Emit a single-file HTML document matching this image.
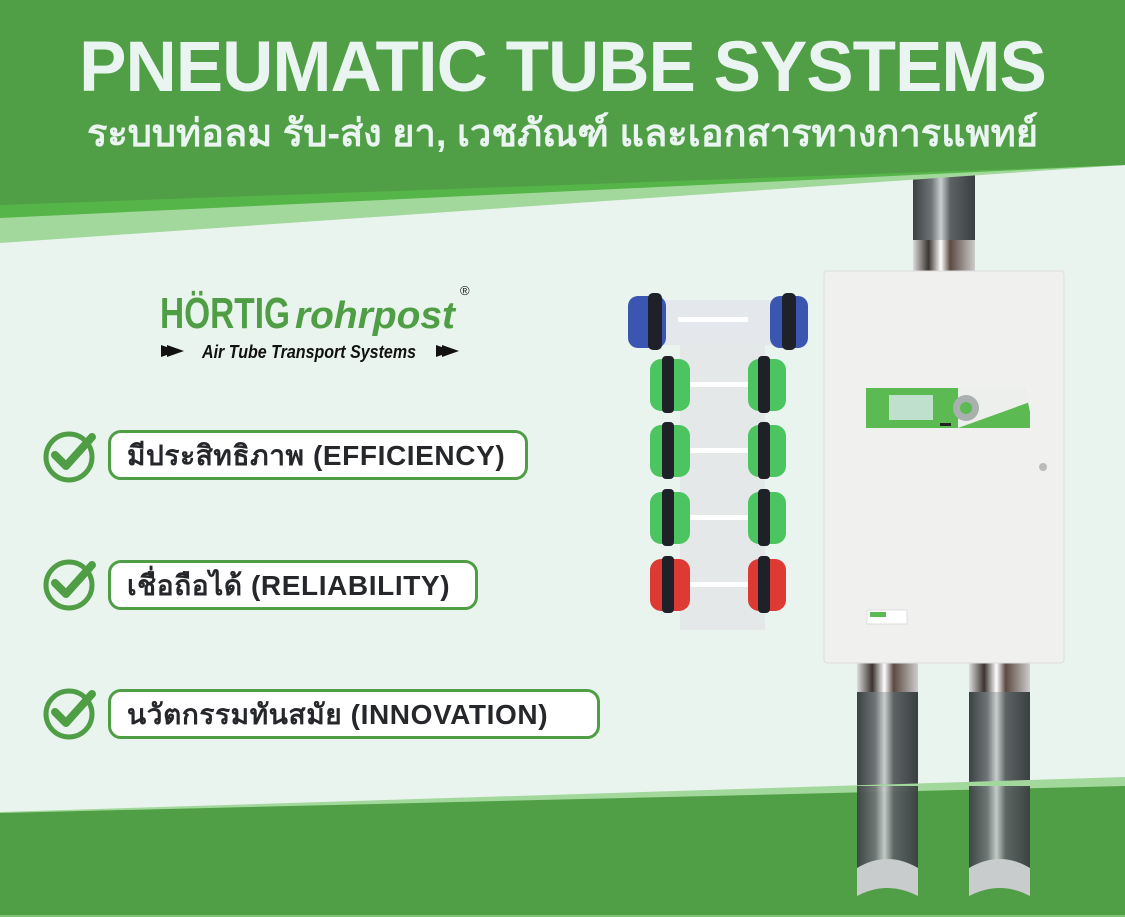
<!DOCTYPE html>
<html><head><meta charset="utf-8"><style>
html,body{margin:0;padding:0}
body{width:1125px;height:917px;overflow:hidden;background:#eaf4ee;position:relative;font-family:"Liberation Sans","Noto Sans CJK SC",sans-serif}
svg{position:absolute;left:0;top:0}
.t{position:absolute;left:0;width:1125px;text-align:center;color:#eaf5f2;font-weight:bold}
.pill{position:absolute;left:108px;height:50px;border:3px solid #4f9e45;border-radius:13px;background:#fff;box-sizing:border-box;font-weight:bold;font-size:28px;color:#25272b;line-height:46px;padding-left:16px;font-family:"Liberation Sans","Noto Sans CJK SC",sans-serif;letter-spacing:0.6px;white-space:nowrap}
</style></head><body>
<svg width="1125" height="917" viewBox="0 0 1125 917">
<defs>
<linearGradient id="pg" x1="0" x2="1"><stop offset="0" stop-color="#3c4244"/><stop offset="0.3" stop-color="#6f7577"/><stop offset="0.45" stop-color="#c9cdcd"/><stop offset="0.6" stop-color="#5d6365"/><stop offset="1" stop-color="#3a3f41"/></linearGradient>
<linearGradient id="cg" x1="0" x2="1"><stop offset="0" stop-color="#ddd"/><stop offset="0.25" stop-color="#3b3430"/><stop offset="0.45" stop-color="#fff"/><stop offset="0.6" stop-color="#5b4a42"/><stop offset="1" stop-color="#ccc"/></linearGradient>
</defs>
<rect x="913" y="170" width="62" height="70" fill="url(#pg)"/>
<rect x="913" y="240" width="62" height="32" fill="url(#cg)"/>
<rect x="857" y="662" width="61" height="30" fill="url(#cg)"/>
<rect x="969" y="662" width="61" height="30" fill="url(#cg)"/>
<rect x="857" y="692" width="61" height="192" fill="url(#pg)"/>
<rect x="969" y="692" width="61" height="192" fill="url(#pg)"/>
<polygon points="0,0 1125,0 1125,165 0,243" fill="#a2d89c"/>
<polygon points="0,0 1125,0 1125,165 0,218" fill="#55b548"/>
<polygon points="0,0 1125,0 1125,165 0,205" fill="#509e45"/>
<polygon points="0,812 1125,777 1125,917 0,917" fill="#a2d89c"/>
<polygon points="0,813 1125,786 1125,917 0,917" fill="#509e45"/>
<rect x="0" y="915" width="1125" height="2" fill="#7fc275"/>
<rect x="857" y="786" width="61" height="100" fill="url(#pg)" opacity="0.95"/>
<rect x="969" y="786" width="61" height="100" fill="url(#pg)" opacity="0.95"/>
<path d="M857 868 Q887 850 918 868 L918 896 Q887 880 857 896Z" fill="#c8cccc"/>
<path d="M969 868 Q1000 850 1030 868 L1030 896 Q1000 880 969 896Z" fill="#c8cccc"/>
<rect x="824" y="271" width="240" height="392" rx="3" fill="#f0f0ef" stroke="#dcdcdc"/>
<polygon points="866,388 1025,388 1030,412 1030,428 955,428 866,428" fill="#5cba53"/>
<polygon points="958,388 1025,388 1030,402 958,428" fill="#ecefec"/>
<rect x="889" y="395" width="44" height="25" fill="#bfe0cd"/>
<circle cx="966" cy="408" r="13" fill="#a9b0b0"/><circle cx="966" cy="408" r="6" fill="#5cba53"/>
<rect x="940" y="423" width="11" height="3" fill="#222"/>
<circle cx="1043" cy="467" r="4" fill="#bbb"/>
<rect x="867" y="610" width="40" height="14" fill="#fff" stroke="#ddd"/>
<rect x="870" y="612" width="16" height="5" fill="#5cba53"/>
<rect x="680" y="300" width="85" height="330" fill="#e3e7e8" opacity="0.9"/>
<rect x="660" y="300" width="130" height="45" fill="#e4e7ec"/>
<g>
<rect x="628" y="296" width="38" height="52" rx="10" fill="#3b56b0"/><rect x="648" y="293" width="14" height="57" rx="5" fill="#1e2228"/>
<rect x="770" y="296" width="38" height="52" rx="10" fill="#3b56b0"/><rect x="782" y="293" width="14" height="57" rx="5" fill="#1e2228"/>
<rect x="678" y="317" width="70" height="5" fill="#fff"/>
</g>
<g fill="#4cc460">
<rect x="650" y="359" width="40" height="52" rx="11"/><rect x="748" y="359" width="38" height="52" rx="11"/>
<rect x="650" y="425" width="40" height="52" rx="11"/><rect x="748" y="425" width="38" height="52" rx="11"/>
<rect x="650" y="492" width="40" height="52" rx="11"/><rect x="748" y="492" width="38" height="52" rx="11"/>
<rect x="650" y="559" width="40" height="52" rx="11" fill="#dc3a32"/><rect x="748" y="559" width="38" height="52" rx="11" fill="#dc3a32"/>
</g>
<g fill="#1e2228">
<rect x="662" y="356" width="12" height="57" rx="4"/><rect x="758" y="356" width="12" height="57" rx="4"/>
<rect x="662" y="422" width="12" height="57" rx="4"/><rect x="758" y="422" width="12" height="57" rx="4"/>
<rect x="662" y="489" width="12" height="57" rx="4"/><rect x="758" y="489" width="12" height="57" rx="4"/>
<rect x="662" y="556" width="12" height="57" rx="4"/><rect x="758" y="556" width="12" height="57" rx="4"/>
</g>
<g fill="#fff"><rect x="690" y="382" width="58" height="5"/><rect x="690" y="448" width="58" height="5"/><rect x="690" y="515" width="58" height="5"/><rect x="690" y="582" width="58" height="5"/></g>
<g fill="none" stroke="#4f9e45" stroke-linecap="round" stroke-linejoin="round">
<circle cx="69" cy="457" r="23" stroke-width="5"/><polyline points="55,455 66,466 92,437" stroke-width="8"/>
<circle cx="69" cy="585" r="23" stroke-width="5"/><polyline points="55,583 66,594 92,565" stroke-width="8"/>
<circle cx="69" cy="714" r="23" stroke-width="5"/><polyline points="55,712 66,723 92,694" stroke-width="8"/>
</g>
<text x="160" y="328" font-family="Liberation Sans" font-weight="bold" font-size="44" fill="#4f9e45" textLength="130" lengthAdjust="spacingAndGlyphs">HÖRTIG</text>
<text x="295" y="328" font-family="Liberation Sans" font-weight="bold" font-style="italic" font-size="38" fill="#4f9e45" textLength="160" lengthAdjust="spacingAndGlyphs">rohrpost</text>
<text x="460" y="295" font-family="Liberation Sans" font-size="13" fill="#222">®</text>
<polygon points="161,345 178,351 161,357" fill="#111"/><polygon points="167,345 184,351 167,357" fill="#111"/>
<polygon points="436,345 453,351 436,357" fill="#111"/><polygon points="442,345 459,351 442,357" fill="#111"/>
<text x="202" y="358" font-family="Liberation Sans" font-weight="bold" font-style="italic" font-size="18" fill="#111" textLength="214" lengthAdjust="spacingAndGlyphs">Air Tube Transport Systems</text>
</svg>
<div class="t" style="top:28px;font-size:71px;line-height:80px;letter-spacing:-1px">PNEUMATIC TUBE SYSTEMS</div>
<div class="t" style="top:110px;font-size:38px;line-height:48px">ระบบท่อลม รับ-ส่ง ยา, เวชภัณฑ์ และเอกสารทางการแพทย์</div>
<div class="pill" style="top:430px;width:420px">มีประสิทธิภาพ (EFFICIENCY)</div>
<div class="pill" style="top:560px;width:370px">เชื่อถือได้ (RELIABILITY)</div>
<div class="pill" style="top:689px;width:492px">นวัตกรรมทันสมัย (INNOVATION)</div>
</body></html>
